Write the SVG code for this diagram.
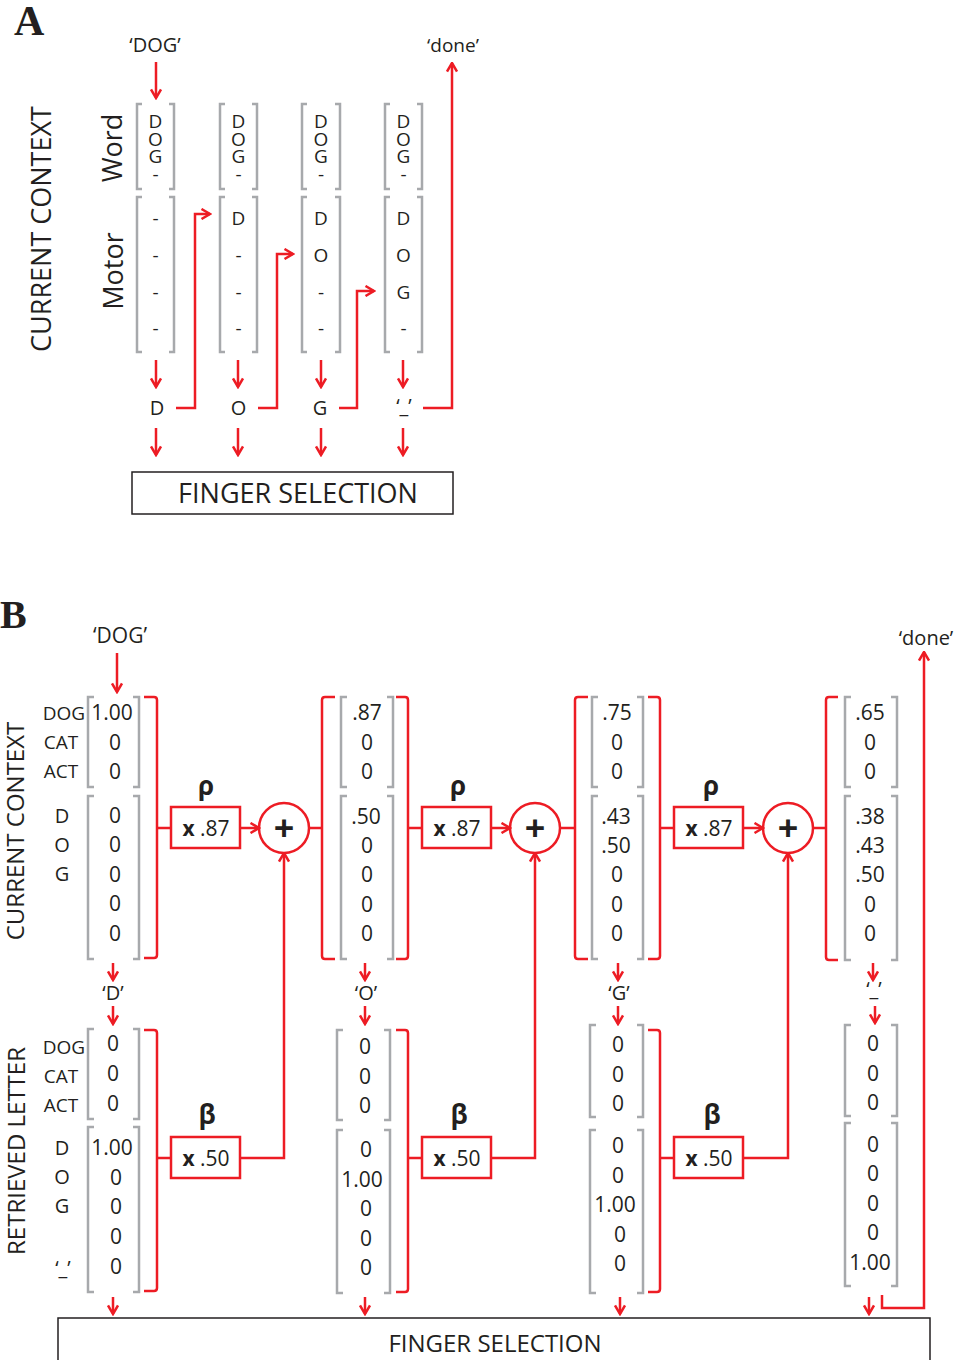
<svg xmlns="http://www.w3.org/2000/svg" width="960" height="1360" viewBox="0 0 960 1360">
<defs>
<style>
.t{font-family:"Open Sans","Noto Sans","DejaVu Sans",sans-serif;fill:#231f20}
.sf{font-family:"Liberation Serif","Times New Roman",serif;font-weight:bold;fill:#231f20}
.c{text-anchor:middle}
.r{stroke:#ed1c24;stroke-width:2.5;fill:none}
.g{stroke:#a7a9ac;stroke-width:2.5;fill:none}
.a{marker-end:url(#ah)}
.box{stroke:#ed1c24;stroke-width:2.5;fill:#fff}
.fs{fill:#fff;stroke:#231f20;stroke-width:1.5}
.v{font-size:21px}
.l{font-size:19px}
.w{font-size:19px}
.vt{font-size:19px;writing-mode:vertical-lr;text-orientation:upright;letter-spacing:-8.4px}
.b{font-weight:bold}
</style>
<marker id="ah" viewBox="0 0 12 12" refX="10.5" refY="6" markerWidth="12" markerHeight="12" markerUnits="userSpaceOnUse" orient="auto">
<path d="M2,1 L10.5,6 L2,11" fill="none" stroke="#ed1c24" stroke-width="2.5"/>
</marker>
</defs>
<rect width="960" height="1360" fill="#fff"/>

<!-- ============ PART A ============ -->
<g id="A-title">
<text class="sf" x="14" y="35" font-size="42">A</text>
<text class="t c" font-size="27" transform="translate(51,229) rotate(-90)">CURRENT CONTEXT</text>
<text class="t c" font-size="27" transform="translate(122,148) rotate(-90)">Word</text>
<text class="t c" font-size="27" transform="translate(123,271) rotate(-90)">Motor</text>
<text class="t c" font-size="20" x="155" y="52">‘DOG’</text>
<text class="t c" font-size="19" x="453" y="52">‘done’</text>
</g>

<g id="A-col1">
<path class="g" d="M142,104 H137 V189 H142 M169,104 H174 V189 H169 M142,197 H137 V352 H142 M169,197 H174 V352 H169"/>
<text class="t vt" x="155.5" y="108">DOG-</text>
<g class="t c w">
<text x="155.5" y="225">-</text><text x="155.5" y="262">-</text><text x="155.5" y="299">-</text><text x="155.5" y="335">-</text>
</g>
<text class="t c" font-size="20" x="157" y="415">D</text>
</g>
<g id="A-col2">
<path class="g" d="M225,104 H220 V189 H225 M252,104 H257 V189 H252 M225,197 H220 V352 H225 M252,197 H257 V352 H252"/>
<text class="t vt" x="238.5" y="108">DOG-</text>
<g class="t c w">
<text x="238.5" y="225">D</text><text x="238.5" y="262">-</text><text x="238.5" y="299">-</text><text x="238.5" y="335">-</text>
</g>
<text class="t c" font-size="20" x="238.5" y="415">O</text>
</g>
<g id="A-col3">
<path class="g" d="M307,104 H302 V189 H307 M335,104 H340 V189 H335 M307,197 H302 V352 H307 M335,197 H340 V352 H335"/>
<text class="t vt" x="321" y="108">DOG-</text>
<g class="t c w">
<text x="321" y="225">D</text><text x="321" y="262">O</text><text x="321" y="299">-</text><text x="321" y="335">-</text>
</g>
<text class="t c" font-size="20" x="320" y="415">G</text>
</g>
<g id="A-col4">
<path class="g" d="M390,104 H385 V189 H390 M417,104 H422 V189 H417 M390,197 H385 V352 H390 M417,197 H422 V352 H417"/>
<text class="t vt" x="403.5" y="108">DOG-</text>
<g class="t c w">
<text x="403.5" y="225">D</text><text x="403.5" y="262">O</text><text x="403.5" y="299">G</text><text x="403.5" y="335">-</text>
</g>
<text class="t c" font-size="20" x="404" y="413">‘_’</text>
</g>
<g id="A-finger">
<rect class="fs" x="132" y="472" width="321" height="42"/>
<text class="t c" font-size="27" x="298" y="503">FINGER SELECTION</text>
</g>

<!-- ============ PART B ============ -->
<g id="B-title">
<text class="sf" x="0" y="628" font-size="40">B</text>
<text class="t c" font-size="24" transform="translate(24,831) rotate(-90)">CURRENT CONTEXT</text>
<text class="t c" font-size="24" transform="translate(25,1151) rotate(-90)">RETRIEVED LETTER</text>
<text class="t c" font-size="21" x="120" y="643">‘DOG’</text>
<text class="t c" font-size="20" x="926" y="645">‘done’</text>
</g>

<g id="B-rowlabels" class="t c l">
<text x="64" y="720">DOG</text><text x="61" y="749">CAT</text><text x="61" y="778">ACT</text>
<text x="62" y="823" font-size="20">D</text><text x="62" y="852" font-size="20">O</text><text x="62" y="881" font-size="20">G</text>
<text x="64" y="1054">DOG</text><text x="61" y="1083">CAT</text><text x="61" y="1112">ACT</text>
<text x="62" y="1155" font-size="20">D</text><text x="62" y="1184" font-size="20">O</text><text x="62" y="1213" font-size="20">G</text>
<text x="63" y="1275" font-size="20">‘_’</text>
</g>

<g id="B-ctx1">
<path class="g" d="M94,697 H88 V787 H94 M133,697 H139 V787 H133 M94,796 H88 V959 H94 M133,796 H139 V959 H133"/>
<g class="t c v">
<text x="112" y="720">1.00</text><text x="115" y="750">0</text><text x="115" y="779">0</text>
<text x="115" y="823">0</text><text x="115" y="852">0</text><text x="115" y="882">0</text><text x="115" y="911">0</text><text x="115" y="941">0</text>
</g>
</g>
<g id="B-ctx2">
<path class="g" d="M347,697 H341 V787 H347 M387,697 H393 V787 H387 M347,796 H341 V959 H347 M387,796 H393 V959 H387"/>
<g class="t c v">
<text x="367" y="720">.87</text><text x="367" y="750">0</text><text x="367" y="779">0</text>
<text x="366" y="824">.50</text><text x="367" y="853">0</text><text x="367" y="882">0</text><text x="367" y="912">0</text><text x="367" y="941">0</text>
</g>
</g>
<g id="B-ctx3">
<path class="g" d="M598,697 H592 V787 H598 M637,697 H643 V787 H637 M598,796 H592 V959 H598 M637,796 H643 V959 H637"/>
<g class="t c v">
<text x="617" y="720">.75</text><text x="617" y="750">0</text><text x="617" y="779">0</text>
<text x="616" y="824">.43</text><text x="616" y="853">.50</text><text x="617" y="882">0</text><text x="617" y="912">0</text><text x="617" y="941">0</text>
</g>
</g>
<g id="B-ctx4">
<path class="g" d="M851,697 H845 V787 H851 M891,697 H897 V787 H891 M851,796 H845 V960 H851 M891,796 H897 V960 H891"/>
<g class="t c v">
<text x="870" y="720">.65</text><text x="870" y="750">0</text><text x="870" y="779">0</text>
<text x="870" y="824">.38</text><text x="870" y="853">.43</text><text x="870" y="882">.50</text><text x="870" y="912">0</text><text x="870" y="941">0</text>
</g>
</g>

<g id="B-ret1">
<path class="g" d="M94,1029 H88 V1119 H94 M133,1029 H139 V1119 H133 M94,1127 H88 V1292 H94 M133,1127 H139 V1292 H133"/>
<g class="t c v">
<text x="113" y="1051">0</text><text x="113" y="1081">0</text><text x="113" y="1111">0</text>
<text x="112" y="1155">1.00</text><text x="116" y="1185">0</text><text x="116" y="1214">0</text><text x="116" y="1244">0</text><text x="116" y="1274">0</text>
</g>
</g>
<g id="B-ret2">
<path class="g" d="M343,1030 H337 V1120 H343 M384,1030 H390 V1120 H384 M343,1130 H337 V1293 H343 M384,1130 H390 V1293 H384"/>
<g class="t c v">
<text x="365" y="1054">0</text><text x="365" y="1084">0</text><text x="365" y="1113">0</text>
<text x="366" y="1157">0</text><text x="362" y="1187">1.00</text><text x="366" y="1216">0</text><text x="366" y="1246">0</text><text x="366" y="1275">0</text>
</g>
</g>
<g id="B-ret3">
<path class="g" d="M596,1025 H590 V1117 H596 M637,1025 H643 V1117 H637 M596,1130 H590 V1293 H596 M637,1130 H643 V1293 H637"/>
<g class="t c v">
<text x="618" y="1052">0</text><text x="618" y="1082">0</text><text x="618" y="1111">0</text>
<text x="618" y="1153">0</text><text x="618" y="1183">0</text><text x="615" y="1212">1.00</text><text x="620" y="1242">0</text><text x="620" y="1271">0</text>
</g>
</g>
<g id="B-ret4">
<path class="g" d="M851,1025 H845 V1116 H851 M891,1025 H897 V1116 H891 M851,1123 H845 V1286 H851 M891,1123 H897 V1286 H891"/>
<g class="t c v">
<text x="873" y="1051">0</text><text x="873" y="1081">0</text><text x="873" y="1110">0</text>
<text x="873" y="1152">0</text><text x="873" y="1181">0</text><text x="873" y="1211">0</text><text x="873" y="1240">0</text><text x="870" y="1270">1.00</text>
</g>
</g>

<g id="B-rho1">
<rect class="box" x="171" y="807" width="69" height="41"/>
<text class="t c" font-size="21" x="206" y="836"><tspan class="b">x</tspan> .87</text>
<text class="t c b" font-size="26" x="206" y="795">ρ</text>
</g>
<g id="B-rho2">
<rect class="box" x="422" y="807" width="69" height="41"/>
<text class="t c" font-size="21" x="457" y="836"><tspan class="b">x</tspan> .87</text>
<text class="t c b" font-size="26" x="458" y="795">ρ</text>
</g>
<g id="B-rho3">
<rect class="box" x="674" y="807" width="69" height="41"/>
<text class="t c" font-size="21" x="709" y="836"><tspan class="b">x</tspan> .87</text>
<text class="t c b" font-size="26" x="711" y="795">ρ</text>
</g>
<g id="B-sum1">
<circle cx="284" cy="828" r="25" class="r"/>
<text class="t c b" font-size="36" x="284" y="841">+</text>
</g>
<g id="B-sum2">
<circle cx="535" cy="828" r="25" class="r"/>
<text class="t c b" font-size="36" x="535" y="841">+</text>
</g>
<g id="B-sum3">
<circle cx="788" cy="828" r="25" class="r"/>
<text class="t c b" font-size="36" x="788" y="841">+</text>
</g>
<g id="B-beta1">
<rect class="box" x="171" y="1137" width="69" height="41"/>
<text class="t c" font-size="21" x="206" y="1166"><tspan class="b">x</tspan> .50</text>
<text class="t c b" font-size="26" x="207" y="1124">β</text>
</g>
<g id="B-beta2">
<rect class="box" x="422" y="1137" width="69" height="41"/>
<text class="t c" font-size="21" x="457" y="1166"><tspan class="b">x</tspan> .50</text>
<text class="t c b" font-size="26" x="459" y="1124">β</text>
</g>
<g id="B-beta3">
<rect class="box" x="674" y="1137" width="69" height="41"/>
<text class="t c" font-size="21" x="709" y="1166"><tspan class="b">x</tspan> .50</text>
<text class="t c b" font-size="26" x="712" y="1124">β</text>
</g>

<g id="B-letters" class="t c" font-size="20">
<text x="113" y="1000">‘D’</text>
<text x="366" y="1000">‘O’</text>
<text x="619" y="1000">‘G’</text>
<text x="874" y="996">‘_’</text>
</g>

<g id="B-finger">
<rect class="fs" x="58" y="1318" width="872" height="70"/>
<text class="t c" font-size="24" x="495" y="1352">FINGER SELECTION</text>
</g>

<!-- ============ CONNECTORS ============ -->
<g id="connectors">
<path class="r a" d="M156,62 V98"/>
<path class="r a" d="M156,360 V387"/>
<path class="r a" d="M238,360 V387"/>
<path class="r a" d="M321,360 V387"/>
<path class="r a" d="M403,360 V387"/>
<path class="r a" d="M156,428 V455"/>
<path class="r a" d="M238,428 V455"/>
<path class="r a" d="M321,428 V455"/>
<path class="r a" d="M403,428 V455"/>
<path class="r a" d="M176,408 H195 V214 H210"/>
<path class="r a" d="M258,408 H277 V254 H293"/>
<path class="r a" d="M339,408 H357 V291 H374"/>
<path class="r a" d="M423,408 H452 V63"/>
<path class="r" d="M144,697 H154 Q157,697 157,700 V955 Q157,958 154,958 H144 M157,828 H171"/>
<path class="r" d="M335,697 H325 Q322,697 322,700 V956 Q322,959 325,959 H335 M309,828 H322"/>
<path class="r" d="M396,697 H405 Q408,697 408,700 V956 Q408,959 405,959 H396 M408,828 H422"/>
<path class="r" d="M588,697 H578 Q575,697 575,700 V956 Q575,959 578,959 H588 M560,828 H575"/>
<path class="r" d="M648,697 H657 Q660,697 660,700 V956 Q660,959 657,959 H648 M660,828 H674"/>
<path class="r" d="M838,697 H829 Q826,697 826,700 V957 Q826,960 829,960 H838 M813,828 H826"/>
<path class="r" d="M144,1030 H154 Q157,1030 157,1033 V1288 Q157,1291 154,1291 H144 M157,1158 H171"/>
<path class="r" d="M396,1030 H405 Q408,1030 408,1033 V1289 Q408,1292 405,1292 H396 M408,1158 H422"/>
<path class="r" d="M648,1030 H657 Q660,1030 660,1033 V1289 Q660,1292 657,1292 H648 M660,1158 H674"/>
<path class="r a" d="M240,828 H259"/>
<path class="r a" d="M491,828 H510"/>
<path class="r a" d="M743,828 H763"/>
<path class="r a" d="M240,1158 H284 V853"/>
<path class="r a" d="M491,1158 H535 V853"/>
<path class="r a" d="M743,1158 H788 V853"/>
<path class="r a" d="M117,653 V692"/>
<path class="r a" d="M882,1295 V1308 H924 V652"/>
<path class="r a" d="M113,963 V980"/>
<path class="r a" d="M113,1006 V1024"/>
<path class="r a" d="M365,963 V980"/>
<path class="r a" d="M365,1006 V1024"/>
<path class="r a" d="M618,963 V980"/>
<path class="r a" d="M618,1006 V1024"/>
<path class="r a" d="M873,963 V980"/>
<path class="r a" d="M875,1006 V1023"/>
<path class="r a" d="M113,1297 V1314"/>
<path class="r a" d="M365,1297 V1314"/>
<path class="r a" d="M620,1297 V1314"/>
<path class="r a" d="M869,1297 V1314"/>
</g>
</svg>
